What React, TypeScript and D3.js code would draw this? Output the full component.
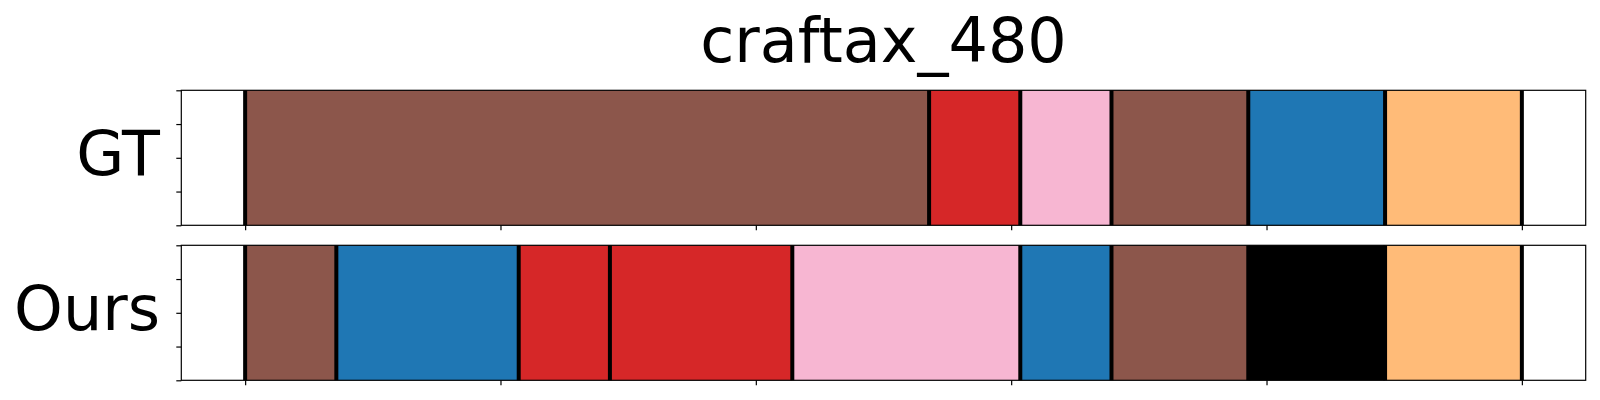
import { useRef, useEffect } from 'react';
import * as d3 from 'd3';

// segment boundaries in steps (28 steps total), one category per segment
const totalSteps = 28;
const gtBounds = [0, 15, 17, 19, 22, 25, 28];
const gtClasses = ['c5', 'c3', 'c6', 'c5', 'c0', 'c1'];
const oursBounds = [0, 2, 6, 8, 12, 17, 19, 22, 25, 28];
const oursClasses = ['c5', 'c0', 'c3', 'c3', 'c6', 'c0', 'c5', 'bg', 'c1'];

const rowLabels = ['GT', 'Ours'];
const xTicks = [0, 0.2, 0.4, 0.6, 0.8, 1.0];
const yTicks = [0, 0.25, 0.5, 0.75, 1];
const title = 'craftax_480';

const classNames = ['c0', 'c1', 'c3', 'c5', 'c6', 'bg'];
const classColors = ['#1f77b4', '#ffbb78', '#d62728', '#8c564b', '#f7b6d2', '#000000'];

export default function App() {
  const svgRef = useRef<SVGSVGElement>(null);

  useEffect(() => {
    if (!svgRef.current) return;
    const width = 1600;
    const height = 400;
    const svg = d3.select(svgRef.current);
    svg.selectAll('*').remove();
    svg.attr('width', width).attr('height', height);

    const font = 'DejaVu Sans, sans-serif';
    const color = d3.scaleOrdinal<string, string>().domain(classNames).range(classColors);

    const xScale = d3.scaleLinear().domain([-0.05, 1.05]).range([181.3, 1585.7]);

    svg.append('text')
      .attr('x', (181.3 + 1585.7) / 2)
      .attr('y', 61.7)
      .attr('text-anchor', 'middle')
      .attr('font-family', font)
      .attr('font-size', 62)
      .text(title);

    const panels = [
      { bounds: gtBounds, classes: gtClasses, top: 90.3, bottom: 225.3, label: rowLabels[0], labelY: 175 },
      { bounds: oursBounds, classes: oursClasses, top: 245.3, bottom: 380.3, label: rowLabels[1], labelY: 330 },
    ];

    panels.forEach((p) => {
      const yScale = d3.scaleLinear().domain([0, 1]).range([p.bottom, p.top]);
      const g = svg.append('g');

      const segs = p.classes.map((c, i) => ({
        start: p.bounds[i] / totalSteps,
        end: p.bounds[i + 1] / totalSteps,
        cls: c,
      }));

      g.selectAll('.seg')
        .data(segs)
        .join('rect')
        .attr('x', (d) => xScale(d.start))
        .attr('width', (d) => xScale(d.end) - xScale(d.start))
        .attr('y', yScale(1))
        .attr('height', yScale(0) - yScale(1))
        .attr('fill', (d) => color(d.cls));

      // boundary lines
      g.selectAll('.bound')
        .data(p.bounds)
        .join('line')
        .attr('x1', (d) => xScale(d / totalSteps))
        .attr('x2', (d) => xScale(d / totalSteps))
        .attr('y1', yScale(1))
        .attr('y2', yScale(0))
        .attr('stroke', '#000')
        .attr('stroke-width', 4);

      // x ticks (no labels)
      g.append('g')
        .attr('transform', `translate(0,${p.bottom})`)
        .call(d3.axisBottom(xScale).tickValues(xTicks).tickSize(5).tickSizeOuter(0).tickFormat(() => ''))
        .call((a) => a.select('.domain').remove())
        .selectAll('line')
        .attr('stroke-width', 1.2);

      // y ticks (no labels)
      g.append('g')
        .attr('transform', `translate(181.3,0)`)
        .call(d3.axisLeft(yScale).tickValues(yTicks).tickSize(5).tickSizeOuter(0).tickFormat(() => ''))
        .call((a) => a.select('.domain').remove())
        .selectAll('line')
        .attr('stroke-width', 1.2);

      // frame
      g.append('rect')
        .attr('x', 181.3)
        .attr('y', p.top)
        .attr('width', 1585.7 - 181.3)
        .attr('height', p.bottom - p.top)
        .attr('fill', 'none')
        .attr('stroke', '#000')
        .attr('stroke-width', 1.2);

      g.append('text')
        .attr('x', 160)
        .attr('y', p.labelY)
        .attr('text-anchor', 'end')
        .attr('font-family', font)
        .attr('font-size', 62)
        .text(p.label);
    });
  }, []);

  return (
    <svg
      ref={svgRef}
      style={{ position: 'absolute', left: 0, top: 0, background: '#fff', display: 'block' }}
    />
  );
}
